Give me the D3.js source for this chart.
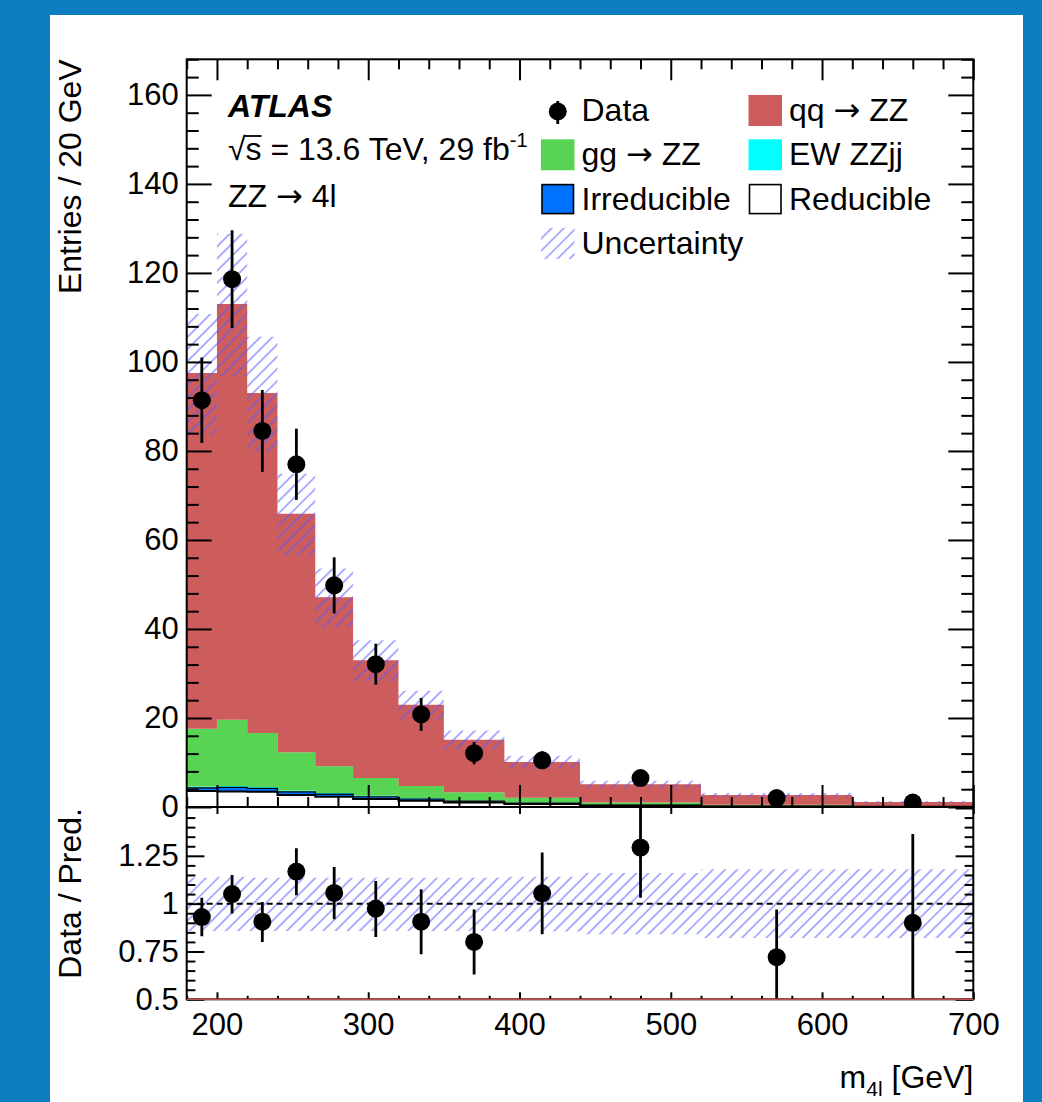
<!DOCTYPE html>
<html>
<head>
<meta charset="utf-8">
<script src="https://cdn.jsdelivr.net/npm/d3@7"></script>
<style>
  body { margin: 0; background: #0c7ec0; }
  svg { display: block; }
  text { font-family: "Liberation Sans", Arial, Helvetica, sans-serif; fill: #000; }
  .arrow { font-family: "DejaVu Sans", sans-serif; }
</style>
</head>
<body>
<div id="chart"></div>
<script>
// bins in m4l [GeV], values are entries / 20 GeV
var binEdges = [180, 200, 220, 240, 265, 290, 320, 350, 390, 440, 520, 620, 700];
var dataVals = [91.4, 118.6, 84.5, 77.0, 49.8, 32.1, 20.8, 12.1, 10.5, 6.5, 2.0, 1.0];
var dataErr  = [9.6, 11.0, 9.2, 8.0, 6.3, 4.6, 3.7, 2.5, 2.0, 1.3, 0.6, 0.5];

// stacked predictions, bottom to top
var reducible   = [3.6, 3.5, 3.4, 2.7, 2.3, 1.8, 1.4, 1.0, 0.7, 0.3, 0.12, 0.06];
var irreducible = [0.7, 0.9, 0.8, 0.7, 0.6, 0.5, 0.4, 0.3, 0.2, 0.1, 0.04, 0.02];
var ewZZjj      = [0.3, 0.3, 0.3, 0.3, 0.25, 0.2, 0.15, 0.12, 0.1, 0.05, 0.02, 0.02];
var ggZZ        = [13.0, 14.9, 12.1, 8.6, 6.0, 4.0, 2.75, 1.9, 1.1, 0.55, 0.3, 0.15];
var qqZZ        = [79.9, 93.4, 76.4, 53.6, 38.0, 26.5, 18.3, 11.8, 8.0, 4.1, 2.2, 0.9];

// relative uncertainty of the prediction
var uncUp   = [0.136, 0.14, 0.136, 0.136, 0.136, 0.136, 0.136, 0.136, 0.14, 0.16, 0.18, 0.18];
var uncDown = [0.143, 0.143, 0.143, 0.143, 0.143, 0.143, 0.143, 0.143, 0.145, 0.16, 0.18, 0.18];

// data / prediction
var ratioVals = [0.93, 1.05, 0.906, 1.168, 1.056, 0.974, 0.906, 0.80, 1.054, 1.293, 0.72, 0.90];
var ratioLo   = [0.83, 0.948, 0.80, 1.044, 0.918, 0.826, 0.735, 0.63, 0.84, 1.031, 0.40, 0.20];
var ratioHi   = [1.031, 1.15, 1.009, 1.29, 1.192, 1.119, 1.075, 0.97, 1.267, 1.60, 0.97, 1.364];

var xTicks = [200, 300, 400, 500, 600, 700];
var yTicks = [0, 20, 40, 60, 80, 100, 120, 140, 160];
var rTicks = [0.5, 0.75, 1, 1.25];

var W = 1042, H = 1102;
var X0 = 186.7, X1 = 973.3;
var Y_TOP = 59.3, Y_MID = 807, Y_BOT = 999.3;

var colors = {
    qq: "#cd5c5c",
    gg: "#59d354",
    ew: "#00ffff",
    irr: "#0072ff",
    red: "#ffffff",
    hatch: "#5c5cff"
};

var svg = d3.select("#chart").append("svg")
    .attr("width", W)
    .attr("height", H);

svg.append("rect").attr("width", W).attr("height", H).attr("fill", "#0c7ec0");
svg.append("rect").attr("x", 50).attr("y", 15).attr("width", 973).attr("height", H - 15).attr("fill", "#fff");

var defs = svg.append("defs");
defs.append("pattern")
    .attr("id", "hatch")
    .attr("patternUnits", "userSpaceOnUse")
    .attr("width", 8.6).attr("height", 20)
    .attr("patternTransform", "rotate(45)")
    .append("line")
    .attr("x1", 1).attr("y1", 0).attr("x2", 1).attr("y2", 20)
    .attr("stroke", colors.hatch).attr("stroke-width", 1);

defs.append("clipPath").attr("id", "clipTop").append("rect")
    .attr("x", X0).attr("y", Y_TOP).attr("width", X1 - X0).attr("height", Y_MID - Y_TOP);
defs.append("clipPath").attr("id", "clipBot").append("rect")
    .attr("x", X0).attr("y", Y_MID).attr("width", X1 - X0).attr("height", Y_BOT - Y_MID);

var x = d3.scaleLinear().domain([180, 700]).range([X0, X1]);
var yTop = d3.scaleLinear().domain([0, 168]).range([Y_MID, Y_TOP]);
var yRat = d3.scaleLinear().domain([0.5, 1.5]).range([Y_BOT, Y_MID + 1]);

var nBins = binEdges.length - 1;
var centers = d3.range(nBins).map(function (i) { return (binEdges[i] + binEdges[i + 1]) / 2; });

// turn per-bin [lo, hi] into step points
function stepPoints(lo, hi) {
    var pts = [];
    for (var i = 0; i < nBins; i++) {
        pts.push({x: binEdges[i], y0: lo[i], y1: hi[i]});
        pts.push({x: binEdges[i + 1], y0: lo[i], y1: hi[i]});
    }
    return pts;
}

// ---------- upper panel ----------
var gTop = svg.append("g").attr("clip-path", "url(#clipTop)");

var keys = ["red", "irr", "ew", "gg", "qq"];
var rows = d3.range(nBins).map(function (i) {
    return {red: reducible[i], irr: irreducible[i], ew: ewZZjj[i], gg: ggZZ[i], qq: qqZZ[i]};
});
var layers = d3.stack().keys(keys)(rows);

var areaTop = d3.area()
    .x(function (d) { return x(d.x); })
    .y0(function (d) { return yTop(d.y0); })
    .y1(function (d) { return yTop(d.y1); });

layers.forEach(function (layer) {
    var lo = layer.map(function (d) { return d[0]; });
    var hi = layer.map(function (d) { return d[1]; });
    gTop.append("path")
        .attr("d", areaTop(stepPoints(lo, hi)))
        .attr("fill", colors[layer.key]);
});

// outlines of reducible and irreducible
var lineTop = d3.line()
    .x(function (d) { return x(d.x); })
    .y(function (d) { return yTop(d.y1); });
[["red", 2], ["irr", 1.2]].forEach(function (o) {
    var layer = layers[keys.indexOf(o[0])];
    var hi = layer.map(function (d) { return d[1]; });
    gTop.append("path")
        .attr("d", lineTop(stepPoints(hi, hi)))
        .attr("fill", "none")
        .attr("stroke", "#000")
        .attr("stroke-width", o[1]);
});

var totals = rows.map(function (r) { return r.red + r.irr + r.ew + r.gg + r.qq; });
gTop.append("path")
    .attr("d", areaTop(stepPoints(
        totals.map(function (t, i) { return t * (1 - uncDown[i]); }),
        totals.map(function (t, i) { return t * (1 + uncUp[i]); }))))
    .attr("fill", "url(#hatch)");

// data points
gTop.selectAll(".errTop").data(d3.range(nBins)).enter().append("line")
    .attr("x1", function (i) { return x(centers[i]); })
    .attr("x2", function (i) { return x(centers[i]); })
    .attr("y1", function (i) { return yTop(dataVals[i] - dataErr[i]); })
    .attr("y2", function (i) { return yTop(dataVals[i] + dataErr[i]); })
    .attr("stroke", "#000").attr("stroke-width", 2.8);
gTop.selectAll(".ptTop").data(d3.range(nBins)).enter().append("circle")
    .attr("cx", function (i) { return x(centers[i]); })
    .attr("cy", function (i) { return yTop(dataVals[i]); })
    .attr("r", 9).attr("fill", "#000");

// ---------- lower panel ----------
var gBot = svg.append("g").attr("clip-path", "url(#clipBot)");
var areaBot = d3.area()
    .x(function (d) { return x(d.x); })
    .y0(function (d) { return yRat(d.y0); })
    .y1(function (d) { return yRat(d.y1); });
gBot.append("path")
    .attr("d", areaBot(stepPoints(
        uncDown.map(function (u) { return 1 - u; }),
        uncUp.map(function (u) { return 1 + u; }))))
    .attr("fill", "url(#hatch)");
gBot.append("line")
    .attr("x1", X0).attr("x2", X1)
    .attr("y1", yRat(1)).attr("y2", yRat(1))
    .attr("stroke", "#000").attr("stroke-width", 2).attr("stroke-dasharray", "6,4");
gBot.selectAll(".errBot").data(d3.range(nBins)).enter().append("line")
    .attr("x1", function (i) { return x(centers[i]); })
    .attr("x2", function (i) { return x(centers[i]); })
    .attr("y1", function (i) { return yRat(ratioLo[i]); })
    .attr("y2", function (i) { return yRat(ratioHi[i]); })
    .attr("stroke", "#000").attr("stroke-width", 2.8);
gBot.selectAll(".ptBot").data(d3.range(nBins)).enter().append("circle")
    .attr("cx", function (i) { return x(centers[i]); })
    .attr("cy", function (i) { return yRat(ratioVals[i]); })
    .attr("r", 9).attr("fill", "#000");

// ---------- axes ----------
function styleAxis(g, fs) {
    g.select(".domain").remove();
    g.selectAll("line").attr("stroke", "#000").attr("stroke-width", 2);
    g.selectAll("text").attr("font-size", fs).attr("font-family", "'Liberation Sans', Arial, sans-serif").attr("fill", "#000");
    g.attr("font-family", null).attr("font-size", null);
}
function minorOf(lo, hi, step, majorStep) {
    return d3.range(Math.round((hi - lo) / step) + 1)
        .map(function (k) { return +(lo + k * step).toFixed(4); })
        .filter(function (v) { return Math.abs(v / majorStep - Math.round(v / majorStep)) > 1e-6; });
}
var fmt = function (d) { return String(d); };
var minorX = minorOf(180, 700, 20, 100);

// upper y
svg.append("g").attr("transform", "translate(" + X0 + ",0)")
    .call(d3.axisLeft(yTop).tickValues(yTicks).tickSize(-25).tickPadding(8).tickFormat(fmt))
    .call(styleAxis, 31);
svg.append("g").attr("transform", "translate(" + X0 + ",0)")
    .call(d3.axisLeft(yTop).tickValues(minorOf(0, 168, 4, 20)).tickSize(-12).tickFormat(""))
    .call(styleAxis, 31);
svg.append("g").attr("transform", "translate(" + X1 + ",0)")
    .call(d3.axisRight(yTop).tickValues(yTicks).tickSize(-25).tickFormat(""))
    .call(styleAxis, 31);
svg.append("g").attr("transform", "translate(" + X1 + ",0)")
    .call(d3.axisRight(yTop).tickValues(minorOf(0, 168, 4, 20)).tickSize(-12).tickFormat(""))
    .call(styleAxis, 31);
// upper x
svg.append("g").attr("transform", "translate(0," + Y_TOP + ")")
    .call(d3.axisTop(x).tickValues(xTicks).tickSize(-21).tickFormat(""))
    .call(styleAxis, 31);
svg.append("g").attr("transform", "translate(0," + Y_TOP + ")")
    .call(d3.axisTop(x).tickValues(minorX).tickSize(-10).tickFormat(""))
    .call(styleAxis, 31);
svg.append("g").attr("transform", "translate(0," + Y_MID + ")")
    .call(d3.axisBottom(x).tickValues(xTicks).tickSize(-22).tickFormat(""))
    .call(styleAxis, 31);
svg.append("g").attr("transform", "translate(0," + Y_MID + ")")
    .call(d3.axisBottom(x).tickValues(minorX).tickSize(-10).tickFormat(""))
    .call(styleAxis, 31);

// lower y
var minorR = minorOf(0.5, 1.5, 0.05, 0.25);
svg.append("g").attr("transform", "translate(" + X0 + ",0)")
    .call(d3.axisLeft(yRat).tickValues(rTicks).tickSize(-17.7).tickPadding(8).tickFormat(fmt))
    .call(styleAxis, 31);
svg.append("g").attr("transform", "translate(" + X0 + ",0)")
    .call(d3.axisLeft(yRat).tickValues(minorR).tickSize(-8.7).tickFormat(""))
    .call(styleAxis, 31);
svg.append("g").attr("transform", "translate(" + X1 + ",0)")
    .call(d3.axisRight(yRat).tickValues(rTicks.concat([1.5])).tickSize(-17.7).tickFormat(""))
    .call(styleAxis, 31);
svg.append("g").attr("transform", "translate(" + X1 + ",0)")
    .call(d3.axisRight(yRat).tickValues(minorR).tickSize(-8.7).tickFormat(""))
    .call(styleAxis, 31);
// lower x
svg.append("g").attr("transform", "translate(0," + Y_BOT + ")")
    .call(d3.axisBottom(x).tickValues(xTicks).tickSize(-7).tickPadding(14).tickFormat(fmt))
    .call(styleAxis, 31);
svg.append("g").attr("transform", "translate(0," + Y_BOT + ")")
    .call(d3.axisBottom(x).tickValues(minorX).tickSize(-3.5).tickFormat(""))
    .call(styleAxis, 31);
svg.append("g").attr("transform", "translate(0," + Y_MID + ")")
    .call(d3.axisTop(x).tickValues(xTicks).tickSize(-7).tickFormat(""))
    .call(styleAxis, 31);

// frames
svg.append("rect").attr("x", X0).attr("y", Y_TOP).attr("width", X1 - X0).attr("height", Y_MID - Y_TOP)
    .attr("fill", "none").attr("stroke", "#000").attr("stroke-width", 2);
svg.append("rect").attr("x", X0).attr("y", Y_MID).attr("width", X1 - X0).attr("height", Y_BOT - Y_MID)
    .attr("fill", "none").attr("stroke", "#000").attr("stroke-width", 2);
svg.append("line").attr("x1", X0).attr("x2", X1).attr("y1", Y_BOT).attr("y2", Y_BOT)
    .attr("stroke", "#c0504d").attr("stroke-width", 1.5);

// axis titles
svg.append("text")
    .attr("transform", "translate(81," + Y_TOP + ") rotate(-90)")
    .attr("text-anchor", "end").attr("font-size", 32)
    .text("Entries / 20 GeV");
svg.append("text")
    .attr("transform", "translate(81," + (Y_MID + 1) + ") rotate(-90)")
    .attr("text-anchor", "end").attr("font-size", 32)
    .text("Data / Pred.");
var xt = svg.append("text")
    .attr("x", X1).attr("y", 1088)
    .attr("text-anchor", "end").attr("font-size", 32);
xt.append("tspan").text("m");
xt.append("tspan").attr("font-size", 21).attr("dy", 8).text("4l");
xt.append("tspan").attr("dy", -8).text(" [GeV]");

// text with a wide arrow glyph
function arrowText(sel, before, after) {
    sel.append("tspan").text(before);
    sel.append("tspan").attr("class", "arrow").text("\u2192");
    sel.append("tspan").text(after);
}

// labels
svg.append("text").attr("x", 228).attr("y", 116.7)
    .attr("font-size", 32).attr("font-weight", "bold").attr("font-style", "italic")
    .text("ATLAS");
var lumi = svg.append("text").attr("x", 228).attr("y", 160).attr("font-size", 32);
lumi.append("tspan").text("\u221A");
lumi.append("tspan").text("s");
lumi.append("tspan").text(" = 13.6 TeV, 29 fb");
lumi.append("tspan").attr("font-size", 20).attr("dy", -13).text("-1");
var ln = lumi.node();
var rootW = ln.getSubStringLength(0, 1), sW = ln.getSubStringLength(1, 1);
svg.append("line")
    .attr("x1", 228 + rootW - 1).attr("x2", 228 + rootW + sW)
    .attr("y1", 136).attr("y2", 136)
    .attr("stroke", "#000").attr("stroke-width", 1.8);
svg.append("text").attr("x", 228).attr("y", 206.5).attr("font-size", 32)
    .call(arrowText, "ZZ ", " 4l");

// legend
var legendItems = [
    {label: ["Data"], type: "data", col: 0, row: 0},
    {label: ["qq ", " ZZ"], type: "box", fill: colors.qq, col: 1, row: 0},
    {label: ["gg ", " ZZ"], type: "box", fill: colors.gg, col: 0, row: 1},
    {label: ["EW ZZjj"], type: "box", fill: colors.ew, col: 1, row: 1},
    {label: ["Irreducible"], type: "box", fill: colors.irr, stroke: true, col: 0, row: 2},
    {label: ["Reducible"], type: "box", fill: "#fff", stroke: true, col: 1, row: 2},
    {label: ["Uncertainty"], type: "hatch", col: 0, row: 3}
];
var colX = [541, 748.5], rowY = [95, 139.3, 183.6, 227.9];
var BW = 33.5, BH = 31;
legendItems.forEach(function (it) {
    var bx = colX[it.col], by = rowY[it.row];
    var g = svg.append("g");
    if (it.type === "data") {
        g.append("line").attr("x1", bx + BW / 2).attr("x2", bx + BW / 2)
            .attr("y1", by + 6).attr("y2", by + 29)
            .attr("stroke", "#000").attr("stroke-width", 2.8);
        g.append("circle").attr("cx", bx + BW / 2).attr("cy", by + 16.5).attr("r", 9).attr("fill", "#000");
    } else if (it.type === "hatch") {
        g.append("rect").attr("x", bx).attr("y", by).attr("width", BW).attr("height", BH)
            .attr("fill", "url(#hatch)");
    } else {
        g.append("rect").attr("x", bx + (it.stroke ? 1 : 0)).attr("y", by + (it.stroke ? 1 : 0))
            .attr("width", BW - (it.stroke ? 2 : 0)).attr("height", BH - (it.stroke ? 2 : 0))
            .attr("fill", it.fill)
            .attr("stroke", it.stroke ? "#000" : "none").attr("stroke-width", 1.6);
    }
    var t = g.append("text").attr("x", bx + 40.5).attr("y", by + BH / 2 + 10.5)
        .attr("font-size", 32);
    if (it.label.length > 1) t.call(arrowText, it.label[0], it.label[1]);
    else t.text(it.label[0]);
});
</script>
</body>
</html>
